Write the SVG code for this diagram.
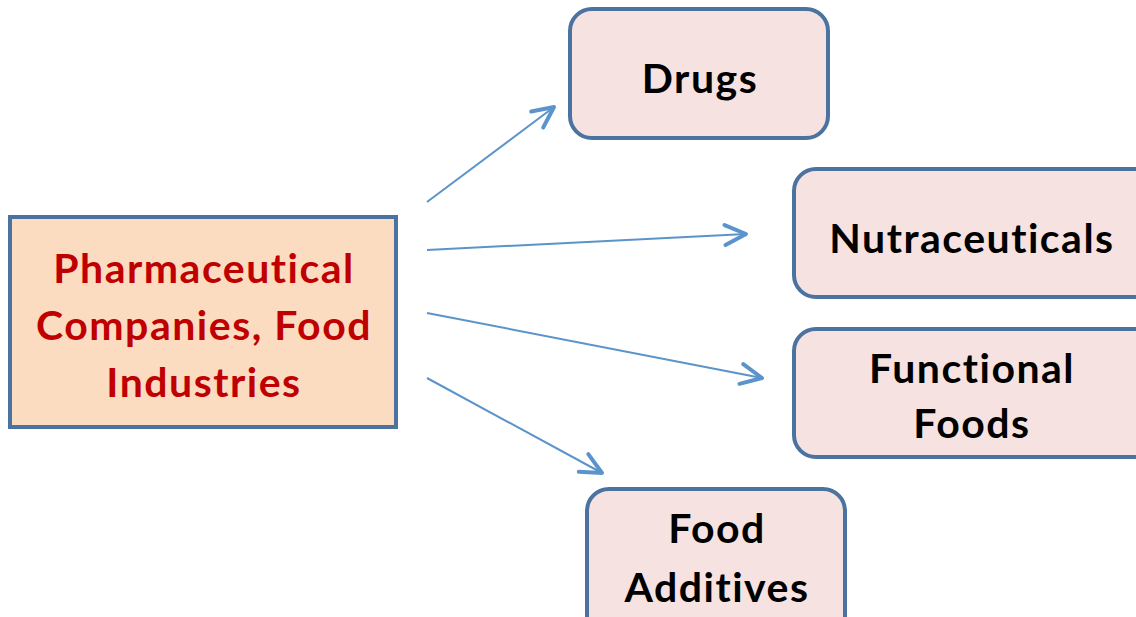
<svg xmlns="http://www.w3.org/2000/svg" width="1136" height="617" viewBox="0 0 1136 617">
<style>
.box{stroke:#4A73A0;stroke-width:4}
.main{fill:#FBDCC1}
.sub{fill:#F5E2E1}
.t{font-family:Lato,"Open Sans","Liberation Sans",sans-serif;font-weight:bold;font-size:41px;letter-spacing:1.5px;text-anchor:middle}
.red{fill:#C00000}
.blk{fill:#000}
.conn{stroke:#5B93CB;stroke-width:2;fill:none}
</style>
<defs>
<marker id="arr" markerUnits="userSpaceOnUse" markerWidth="30" markerHeight="30" viewBox="-25 -15 30 30" refX="0" refY="0" orient="auto">
<path d="M-21,-10 L0,0 L-21,10" fill="none" stroke="#5B93CB" stroke-width="4" stroke-linecap="round" stroke-linejoin="round"/>
</marker>
</defs>
<rect width="1136" height="617" fill="#fff"/>
<g id="connectors">
<line class="conn" x1="427" y1="202" x2="554" y2="107" marker-end="url(#arr)"/>
<line class="conn" x1="427" y1="250" x2="746" y2="234" marker-end="url(#arr)"/>
<line class="conn" x1="427" y1="313" x2="762" y2="378" marker-end="url(#arr)"/>
<line class="conn" x1="427" y1="378" x2="602" y2="473" marker-end="url(#arr)"/>
</g>
<g id="source">
<rect class="box main" x="10" y="217" width="386" height="210"/>
<text class="t red" x="204" y="283">Pharmaceutical</text>
<text class="t red" x="204" y="340">Companies, Food</text>
<text class="t red" x="204" y="397">Industries</text>
</g>
<g id="drugs">
<rect class="box sub" x="570" y="9" width="258" height="129" rx="22"/>
<text class="t blk" x="700" y="93">Drugs</text>
</g>
<g id="nutraceuticals">
<rect class="box sub" x="794" y="169" width="370" height="128" rx="22"/>
<text class="t blk" x="972" y="253">Nutraceuticals</text>
</g>
<g id="functional-foods">
<rect class="box sub" x="794" y="329" width="370" height="128" rx="22"/>
<text class="t blk" x="972" y="383">Functional</text>
<text class="t blk" x="972" y="438">Foods</text>
</g>
<g id="food-additives">
<rect class="box sub" x="587" y="489" width="258" height="160" rx="22"/>
<text class="t blk" x="717" y="543">Food</text>
<text class="t blk" x="717" y="602">Additives</text>
</g>
</svg>
